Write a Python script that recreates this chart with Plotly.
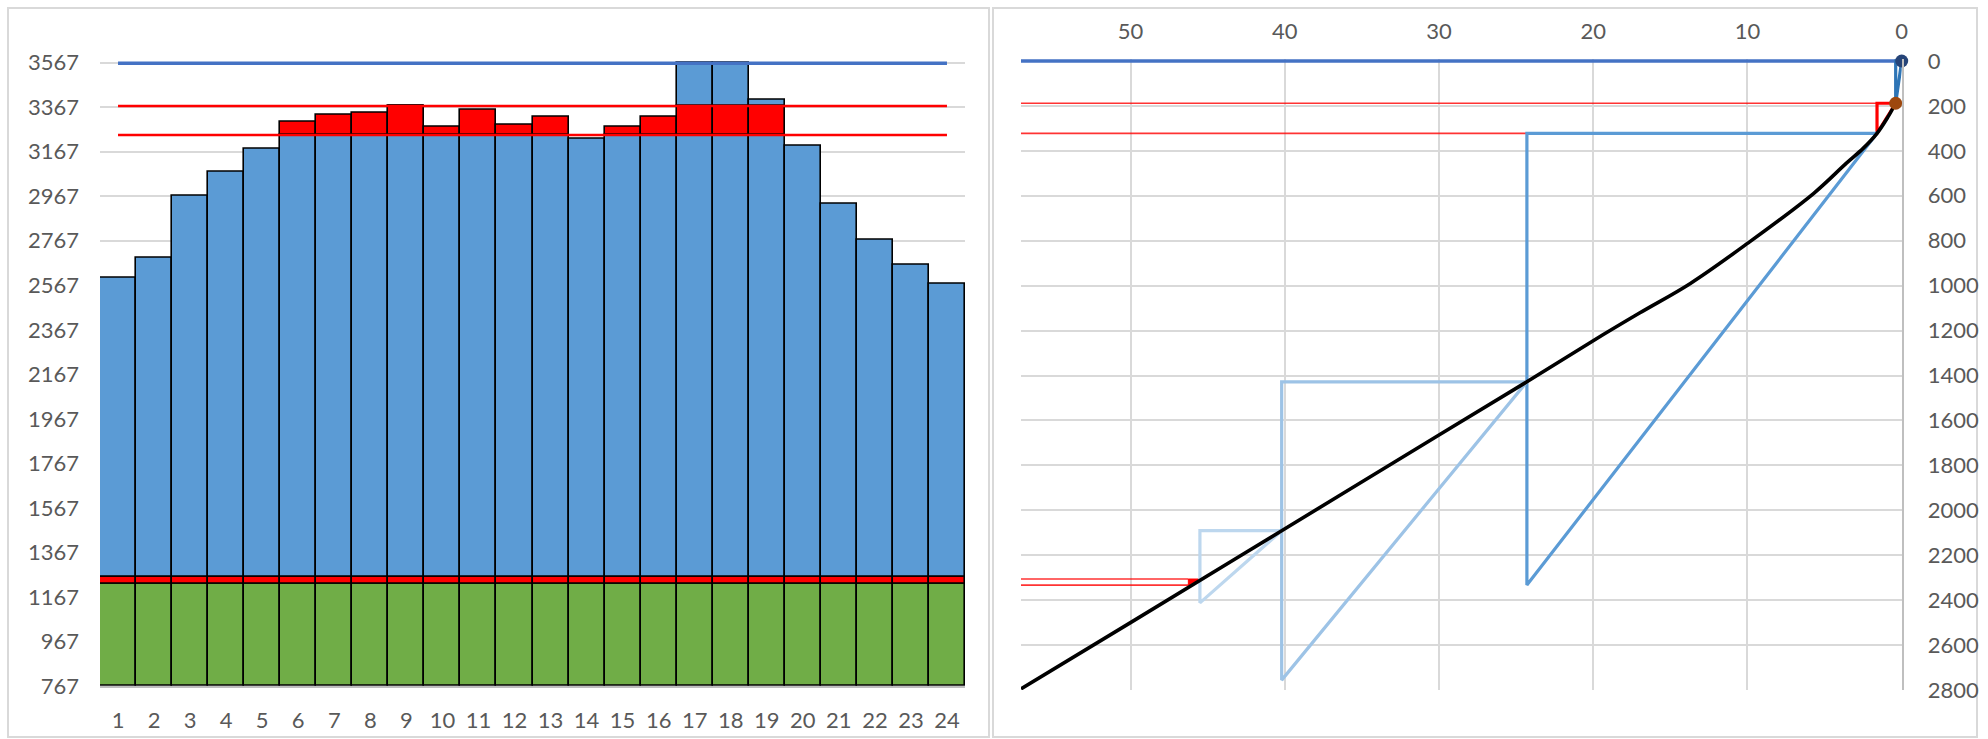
import plotly.graph_objects as go

# ---------------- left panel: hourly load stack ----------------
hours = list(range(1, 25))
hour_totals = [2601, 2691, 2970, 3077, 3179, 3302, 3335, 3341, 3375, 3278, 3356, 3290,
               3322, 3223, 3278, 3324, 3565, 3565, 3399, 3193, 2934, 2771, 2657, 2576]
axis_floor = 767
green_top = 1227
red_band = 30
band_low = 3242
band_high = 3373
limit_top = 3565
left_ticks = [767, 967, 1167, 1367, 1567, 1767, 1967, 2167, 2367, 2567, 2767, 2967, 3167, 3367, 3567]

# ---------------- right panel: cumulative curve with steps ----------------
curve_x = [0.39, 0.9, 1.6, 2.5, 3.6, 5.7, 10.0, 13.7, 17.0, 20.0, 24.3, 30.0, 40.2, 50.0, 57.1]
curve_y = [188, 250, 322, 389, 456, 589, 812, 990, 1122, 1245, 1428, 1665, 2091, 2500, 2795]
step_x_start = [0.0, 0.39, 1.6, 24.3, 40.2]
step_y_start = [0, 188, 322, 1428, 2091]
step_x_end = [0.39, 1.6, 24.3, 40.2, 45.5]
step_y_end = [188, 322, 2333, 2756, 2412]
step_colors = ["#2E75B6", "#FF0000", "#5B9BD5", "#9DC3E6", "#BDD7EE"]
guide_upper = [188, 322]
guide_lower = [2306, 2333]
guide_lower_tip = [46.25, 45.35]
right_xticks = [0, 10, 20, 30, 40, 50]
right_yticks = [0, 200, 400, 600, 800, 1000, 1200, 1400, 1600, 1800, 2000, 2200, 2400, 2600, 2800]
x_left_edge = 57.1

W, H = 1988, 739
FONT = dict(family="Lato, 'Open Sans', sans-serif", size=22, color="#595959")
GRID = "#D9D9D9"


def px_x(p):
    return p / W


def px_y(p):
    return 1 - p / H


fig = go.Figure()

# stacked segments, each with its own base so they overlay exactly
seg_green = [green_top - axis_floor for _ in hours]
seg_red = [red_band for _ in hours]
seg_blue1 = [min(t, band_low) - (green_top + red_band) for t in hour_totals]
seg_red2 = [min(t, band_high) - band_low if t > band_low else None for t in hour_totals]
seg_blue2 = [t - band_high if t > band_high else None for t in hour_totals]

segments = [
    (seg_green, [axis_floor] * 24, "#70AD47"),
    (seg_red, [green_top] * 24, "#FF0000"),
    (seg_blue1, [green_top + red_band] * 24, "#5B9BD5"),
    (seg_red2, [band_low] * 24, "#FF0000"),
    (seg_blue2, [band_high] * 24, "#5B9BD5"),
]
for heights, base, color in segments:
    fig.add_trace(go.Bar(
        x=hours, y=heights, base=base, width=1.0,
        marker=dict(color=color, line=dict(color="black", width=1.6)),
        xaxis="x", yaxis="y", hoverinfo="skip",
    ))

for level, color, lw in [(limit_top, "#4472C4", 3.5), (band_high, "#FF0000", 2.5), (band_low, "#FF0000", 2.5)]:
    fig.add_trace(go.Scatter(
        x=[hours[0], hours[-1]], y=[level, level], mode="lines",
        line=dict(color=color, width=lw), xaxis="x", yaxis="y", hoverinfo="skip",
    ))

# right panel
fig.add_trace(go.Scatter(
    x=[x_left_edge, 0], y=[0, 0], mode="lines",
    line=dict(color="#4472C4", width=3.5), xaxis="x2", yaxis="y2", hoverinfo="skip",
))
for yv in guide_upper:
    fig.add_trace(go.Scatter(
        x=[x_left_edge, step_x_end[1]], y=[yv, yv], mode="lines",
        line=dict(color="rgba(255,0,0,0.8)", width=1.6), xaxis="x2", yaxis="y2", hoverinfo="skip",
    ))
for yv in guide_lower:
    fig.add_trace(go.Scatter(
        x=[x_left_edge, guide_lower_tip[0]], y=[yv, yv], mode="lines",
        line=dict(color="rgba(255,0,0,0.8)", width=1.6), xaxis="x2", yaxis="y2", hoverinfo="skip",
    ))
fig.add_trace(go.Scatter(
    x=[guide_lower_tip[0], guide_lower_tip[1], guide_lower_tip[0], guide_lower_tip[0]],
    y=[guide_lower[0], guide_lower[0], guide_lower[1], guide_lower[0]],
    mode="lines", fill="toself", fillcolor="#FF0000",
    line=dict(color="#FF0000", width=1), xaxis="x2", yaxis="y2", hoverinfo="skip",
))

for i in range(len(step_x_start)):
    x0, y0, x1, y1 = step_x_start[i], step_y_start[i], step_x_end[i], step_y_end[i]
    fig.add_trace(go.Scatter(
        x=[x0, x1, x1, x0], y=[y0, y0, y1, y0], mode="lines",
        line=dict(color=step_colors[i], width=3.2), xaxis="x2", yaxis="y2", hoverinfo="skip",
    ))

fig.add_trace(go.Scatter(
    x=curve_x, y=curve_y, mode="lines", line=dict(color="black", width=3.6, shape="spline", smoothing=1.0),
    xaxis="x2", yaxis="y2", hoverinfo="skip",
))
fig.add_trace(go.Scatter(
    x=[step_x_start[0]], y=[step_y_start[0]], mode="markers", cliponaxis=False,
    marker=dict(color="#264478", size=13), xaxis="x2", yaxis="y2", hoverinfo="skip",
))
fig.add_trace(go.Scatter(
    x=[step_x_start[1]], y=[step_y_start[1]], mode="markers", cliponaxis=False,
    marker=dict(color="#9E480E", size=13), xaxis="x2", yaxis="y2", hoverinfo="skip",
))

# panel frames
shapes = [
    dict(type="rect", xref="paper", yref="paper", x0=px_x(8), x1=px_x(989), y0=px_y(737), y1=px_y(8),
         line=dict(color=GRID, width=2), layer="below"),
    dict(type="rect", xref="paper", yref="paper", x0=px_x(993), x1=px_x(1977), y0=px_y(737), y1=px_y(8),
         line=dict(color=GRID, width=2), layer="below"),
]

left_top_val = 3580
left_px_per = (686 - 62.7) / 2800
left_top_px = 62.7 - (left_top_val - 3567) * left_px_per
right_top_val = -10
right_px_per = (690 - 61) / 2800
right_top_px = 61 - (0 - right_top_val) * right_px_per

common = dict(ticks="", tickfont=FONT, automargin=False, zeroline=False)

fig.update_layout(
    template="none",
    width=W, height=H, autosize=False, margin=dict(l=0, r=0, t=0, b=0, pad=0),
    paper_bgcolor="white", plot_bgcolor="white",
    showlegend=False, barmode="overlay", bargap=0, font=FONT, shapes=shapes,
    xaxis=dict(domain=[px_x(100), px_x(965)], range=[0.5, 24.5], tickvals=hours,
               showgrid=False, showline=True, linecolor="#BFBFBF", linewidth=1.5,
               ticklabelstandoff=14, anchor="y", **common),
    yaxis=dict(domain=[px_y(686), px_y(left_top_px)], range=[axis_floor, left_top_val], tickvals=left_ticks,
               showgrid=True, gridcolor=GRID, gridwidth=1.5, showline=False,
               ticklabelstandoff=20, anchor="x", **common),
    xaxis2=dict(domain=[px_x(1021), px_x(1901.7)], range=[x_left_edge, 0], tickvals=right_xticks,
                side="top", showgrid=True, gridcolor=GRID, gridwidth=1.5, showline=False,
                ticklabelstandoff=14, anchor="y2", **common),
    yaxis2=dict(domain=[px_y(690), px_y(right_top_px)], range=[2800, right_top_val], tickvals=right_yticks,
                side="right", showgrid=True, gridcolor=GRID, gridwidth=1.5,
                showline=True, linecolor="#BFBFBF", linewidth=1.5,
                ticklabelstandoff=20, anchor="x2", **common),
)

# page without the default body margin so the figure fills the window exactly
page_setup = "document.body.style.margin='0';document.body.style.overflow='hidden';"
fig.write_html("out.html", post_script=page_setup)
